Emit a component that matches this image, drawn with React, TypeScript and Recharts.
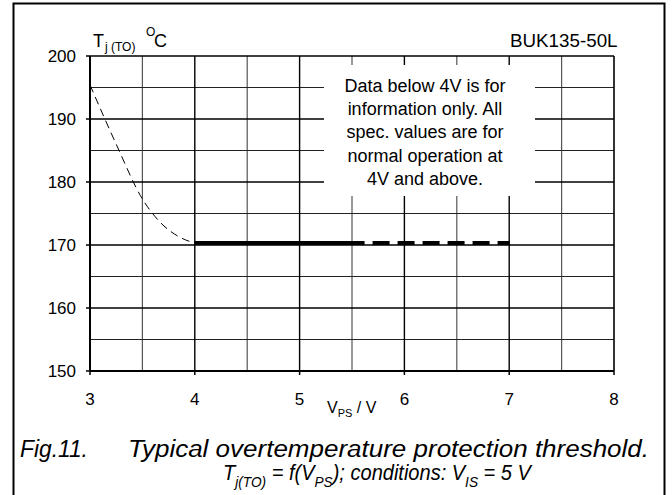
import { LineChart, Line, XAxis, YAxis, ReferenceLine } from 'recharts'

// typical curve below 4 V (informative, dashed)
const lowVps = [3, 3.25, 3.5, 3.67, 3.85, 4]
const lowTemp = [195.4, 186, 177.3, 173.6, 171.3, 170.3]

// spec range: solid part then dashed extension
const specVps = [4, 5.62]
const specTemp = [170.3, 170.3]
const extVps = [5.62, 7]
const extTemp = [170.3, 170.3]

const xTicks = [3, 4, 5, 6, 7, 8]
const yTicks = [150, 160, 170, 180, 190, 200]
const xMinor = [3.5, 4.5, 5.5, 6.5, 7.5]
const yMinor = [155, 165, 175, 185, 195]
const xMajor = [4, 5, 6, 7]
const yMajor = [160, 170, 180, 190]

const noteLines = [
  'Data below 4V is for',
  'information only. All',
  'spec. values are for',
  'normal operation at',
  '4V and above.',
]

const toPoints = (xs: number[], ys: number[]) => xs.map((x, i) => ({ x, y: ys[i] }))

const FONT = '"Liberation Sans", Arial, sans-serif'

const capLine: React.CSSProperties = {
  position: 'absolute',
  fontFamily: FONT,
  fontStyle: 'italic',
  lineHeight: '20px',
  whiteSpace: 'nowrap',
  color: '#000',
  transformOrigin: '0 0',
}
const sub: React.CSSProperties = { fontSize: 15, position: 'relative', top: 7 }

export default function App() {
  const tick = { fontSize: 17, fill: '#000', fontFamily: FONT }
  return (
    <div style={{ position: 'absolute', left: 0, top: 0, width: 672, height: 495, background: '#fff', overflow: 'hidden' }}>
      <LineChart width={672} height={430} margin={{ top: 56, right: 58, left: 0, bottom: 19 }}>
        {xMinor.map((v) => (
          <ReferenceLine key={'xm' + v} x={v} stroke="#555" strokeWidth={1.2} />
        ))}
        {yMinor.map((v) => (
          <ReferenceLine key={'ym' + v} y={v} stroke="#222" strokeWidth={1.1} />
        ))}
        {xMajor.map((v) => (
          <ReferenceLine key={'xM' + v} x={v} stroke="#000" strokeWidth={1.4} />
        ))}
        {yMajor.map((v) => (
          <ReferenceLine key={'yM' + v} y={v} stroke="#000" strokeWidth={1.6} />
        ))}
        <ReferenceLine y={200} stroke="#000" strokeWidth={1.6} />
        <ReferenceLine x={8} stroke="#000" strokeWidth={1.6} />
        <XAxis
          type="number"
          dataKey="x"
          domain={[3, 8]}
          ticks={xTicks}
          allowDataOverflow
          height={40}
          tickSize={4}
          tickMargin={18}
          tick={tick}
          axisLine={{ stroke: '#000', strokeWidth: 2 }}
          tickLine={{ stroke: '#000', strokeWidth: 1.5 }}
        />
        <YAxis
          type="number"
          dataKey="y"
          domain={[150, 200]}
          ticks={yTicks}
          allowDataOverflow
          width={90}
          tickSize={4}
          tickMargin={10}
          tick={tick}
          axisLine={{ stroke: '#000', strokeWidth: 2 }}
          tickLine={{ stroke: '#000', strokeWidth: 1.5 }}
        />
        <Line
          data={toPoints(lowVps, lowTemp)}
          dataKey="y"
          type="monotone"
          stroke="#000"
          strokeWidth={1}
          strokeDasharray="8 5"
          dot={false}
          isAnimationActive={false}
        />
        <Line
          data={toPoints(specVps, specTemp)}
          dataKey="y"
          type="linear"
          stroke="#000"
          strokeWidth={4}
          dot={false}
          isAnimationActive={false}
        />
        <Line
          data={toPoints(extVps, extTemp)}
          dataKey="y"
          type="linear"
          stroke="#000"
          strokeWidth={4}
          strokeDasharray="17 8"
          strokeDashoffset={17}
          dot={false}
          isAnimationActive={false}
        />
      </LineChart>

      <svg
        width={672}
        height={495}
        style={{ position: 'absolute', left: 0, top: 0, pointerEvents: 'none', fontFamily: FONT }}
      >
        <rect x={13.5} y={3.5} width={651} height={530} fill="none" stroke="#000" strokeWidth={2} />

        {/* note box hides the grid behind it */}
        <rect x={324} y={65} width={211} height={131} fill="#fff" />
        {noteLines.map((t, i) => (
          <text key={t} x={425} y={91.5 + i * 23.4} fontSize={18} textAnchor="middle" fill="#000">
            {t}
          </text>
        ))}

        <text x={93} y={47} fontSize={18} fill="#000">T</text>
        <text x={105} y={51} fontSize={12} fill="#000">j (TO)</text>
        <text x={146} y={36} fontSize={12} fill="#000">O</text>
        <text x={154} y={47} fontSize={18} fill="#000">C</text>

        <text x={510} y={47} fontSize={18.8} fill="#000">
          BUK135-50L
        </text>

        <text x={327} y={413} fontSize={16} fill="#000">
          V<tspan fontSize={11} dy={4}>PS</tspan>
          <tspan dy={-4}> / V</tspan>
        </text>
      </svg>

      {/* caption: a little smaller, stretched back to the reference widths */}
      <div style={{ ...capLine, fontSize: 23, left: 20, top: 439, transform: 'scaleX(0.99)' }}>Fig.11.</div>
      <div style={{ ...capLine, fontSize: 23, left: 128, top: 439, transform: 'scaleX(1.13)' }}>
        Typical overtemperature protection threshold.
      </div>
      <div style={{ ...capLine, fontSize: 22, left: 223, top: 463, transform: 'scaleX(0.91)' }}>
        T<span style={sub}>j(TO)</span> = f(V<span style={sub}>PS</span>); conditions: V<span style={sub}>IS</span> = 5 V
      </div>
    </div>
  )
}
